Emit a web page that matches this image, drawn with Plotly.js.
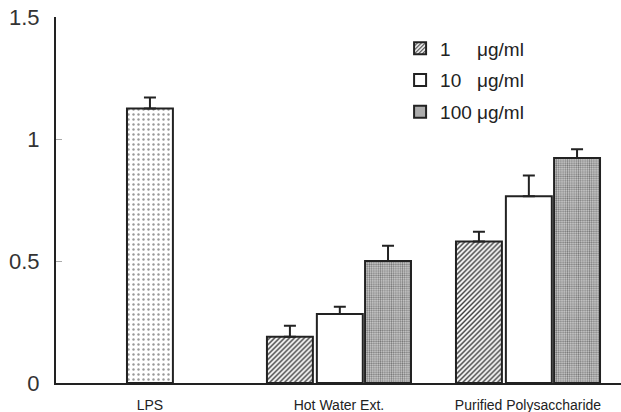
<!DOCTYPE html>
<html><head><meta charset="utf-8">
<script src="https://cdn.plot.ly/plotly-3.0.1.min.js"></script>
<style>html,body{margin:0;padding:0;background:#fff;}#chart{width:621px;height:412px;}</style>
</head><body><div id="chart"></div>
<script>
const categories = ['LPS', 'Hot Water Ext.', 'Purified Polysaccharide'];
const lpsValue = [1.125];
const lpsError = [0.045];
const doseGroups = ['Hot Water Ext.', 'Purified Polysaccharide'];
const doseNames = ['1', '10', '100'];
const doseValues = [
  [0.19, 0.58],
  [0.283, 0.765],
  [0.5, 0.922]
];
const doseErrors = [
  [0.045, 0.04],
  [0.03, 0.085],
  [0.063, 0.036]
];
const unitLabel = 'μg/ml';

const barW = 0.243;
const offsets = [-0.381, -0.117, 0.138];
const padding = ['\u00A0\u00A0\u00A0\u00A0\u00A0', '\u00A0\u00A0\u00A0', '\u00A0'];
const patterns = [
  {shape: '/', fgcolor: '#333', bgcolor: '#fff', size: 3.5, solidity: 0.4},
  {shape: '', fgcolor: '#222', bgcolor: '#fff'},
  {shape: '.', fgcolor: '#777', bgcolor: '#d0d0d0', size: 2.2, solidity: 0.45}
];

const traces = [{
  type: 'bar', x: [categories[0]], y: lpsValue, width: barW, offset: -barW / 2,
  showlegend: false,
  marker: {color: '#fff', line: {color: '#222', width: 2},
    pattern: {shape: '.', fgcolor: '#999', bgcolor: '#fff', size: 5, solidity: 0.18}},
  error_y: {type: 'data', array: lpsError, arrayminus: [0], symmetric: false, color: '#222', thickness: 2, width: 6}
}];
doseNames.forEach((n, i) => {
  traces.push({
    type: 'bar', x: doseGroups, y: doseValues[i], width: barW, offset: offsets[i],
    name: n + padding[i] + unitLabel, legendgroup: 'g' + i,
    marker: {color: '#fff', line: {color: '#222', width: 2}, pattern: patterns[i]},
    error_y: {type: 'data', array: doseErrors[i], arrayminus: [0, 0], symmetric: false, color: '#222', thickness: 2, width: 6}
  });
});

const layout = {
  width: 621, height: 412,
  margin: {l: 56, r: 0, t: 17, b: 29},
  paper_bgcolor: '#fff', plot_bgcolor: '#fff',
  barmode: 'overlay',
  font: {family: 'Arial, Liberation Sans, sans-serif', color: '#222'},
  xaxis: {
    type: 'category', categoryorder: 'array', categoryarray: categories,
    range: [-0.497, 2.492], showgrid: false, zeroline: false,
    showline: true, linecolor: '#222', linewidth: 2, ticks: '',
    tickfont: {size: 14, color: '#222'}, ticklabelstandoff: 8
  },
  yaxis: {
    range: [0, 1.5], dtick: 0.5, tick0: 0, showgrid: false, zeroline: false,
    showline: true, linecolor: '#222', linewidth: 2,
    ticks: 'inside', ticklen: 6, tickcolor: '#aaa', tickwidth: 1,
    tickfont: {size: 22, color: '#333'}, ticklabelstandoff: 10
  },
  legend: {
    x: 0.609, y: 0.966, xanchor: 'left', yanchor: 'top',
    bgcolor: 'rgba(0,0,0,0)', font: {size: 19, color: '#222'},
    tracegroupgap: 4, itemwidth: 30
  },
  showlegend: true
};
Plotly.newPlot('chart', traces, layout, {staticPlot: true});
</script></body></html>
